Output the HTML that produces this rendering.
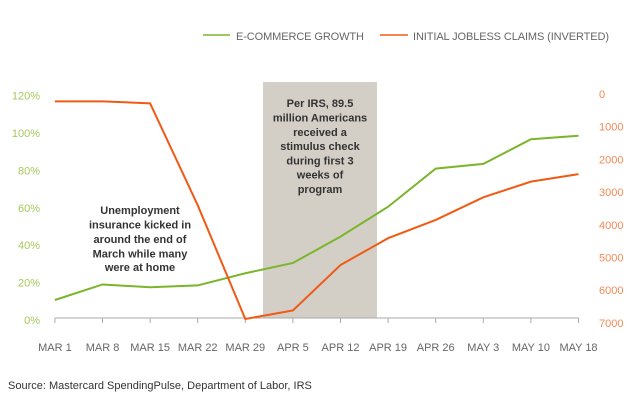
<!DOCTYPE html>
<html><head><meta charset="utf-8"><style>
body{margin:0;background:#fff;width:640px;height:401px;overflow:hidden;font-family:"Liberation Sans",sans-serif}
</style></head><body>
<svg id="chart" width="640" height="401" xmlns="http://www.w3.org/2000/svg" font-family="Liberation Sans, sans-serif">
<g>
<line x1="203" y1="35" x2="230" y2="35" stroke="#7ab52c" stroke-width="1.5"/>
<text x="236" y="40" font-size="11" fill="#666" textLength="128">E-COMMERCE GROWTH</text>
<line x1="380" y1="35" x2="408" y2="35" stroke="#f05a14" stroke-width="1.5"/>
<text x="413" y="40" font-size="11" fill="#666" textLength="196">INITIAL JOBLESS CLAIMS (INVERTED)</text>
</g>
<rect x="263" y="82" width="114" height="236" fill="#d3cfc7"/>
<g id="axes"></g>
<g id="marks"></g>
<text font-size="11" font-weight="bold" fill="#333" text-anchor="middle">
<tspan x="320" y="107">Per IRS, 89.5</tspan><tspan x="320" y="121.5">million Americans</tspan><tspan x="320" y="136">received a</tspan><tspan x="320" y="150">stimulus check</tspan><tspan x="320" y="164.5">during first 3</tspan><tspan x="320" y="178.5">weeks of</tspan><tspan x="320" y="193">program</tspan></text>
<text font-size="11" font-weight="bold" fill="#333" text-anchor="middle">
<tspan x="140" y="214">Unemployment</tspan><tspan x="140" y="228.5">insurance kicked in</tspan><tspan x="140" y="243">around the end of</tspan><tspan x="140" y="257.5">March while many</tspan><tspan x="140" y="271">were at home</tspan></text>
<text x="8" y="389" font-size="11" fill="#333">Source: Mastercard SpendingPulse, Department of Labor, IRS</text>
</svg>
<script>
const categories=["MAR 1","MAR 8","MAR 15","MAR 22","MAR 29","APR 5","APR 12","APR 19","APR 26","MAY 3","MAY 10","MAY 18"];
const ecommerce=[10.7,19,17.5,18.5,25,30.5,44.6,60.6,81,83.5,96.7,98.6];
const jobless=[225,225,285,3400,6880,6620,5230,4410,3850,3160,2680,2450];
const leftTicks=[0,20,40,60,80,100,120];
const rightTicks=[0,1000,2000,3000,4000,5000,6000,7000];
const NS="http://www.w3.org/2000/svg";
const x=i=>54.9+i*47.6;
const yL=v=>320-v*(224.3/120);
const yR=v=>94+v*0.0327;
const axes=document.getElementById('axes'),marks=document.getElementById('marks');
function mk(t,a,p){const e=document.createElementNS(NS,t);for(const k in a)e.setAttribute(k,a[k]);p.appendChild(e);return e;}
const base=mk('line',{x1:x(0),y1:318,x2:x(11),y2:318,stroke:'#aaa','stroke-width':1},axes);


categories.forEach((c,i)=>{
 const tk=mk('line',{x1:x(i),y1:318,x2:x(i),y2:323,stroke:'#aaa'},axes);
 
 
 const t=mk('text',{x:x(i),y:351,'font-size':11,fill:'#666','text-anchor':'middle'},axes);
 
 
 t.textContent=c;
});
leftTicks.forEach(v=>{
 const t=mk('text',{x:40,y:yL(v)+4,'font-size':11,fill:'#a5c85a','text-anchor':'end'},axes);
 
 
 t.textContent=v+'%';
});
rightTicks.forEach(v=>{
 const t=mk('text',{x:599,y:yR(v)+4,'font-size':11,fill:'#f28a55'},axes);
 
 
 t.textContent=v;
});
const g=mk('polyline',{points:ecommerce.map((v,i)=>x(i)+','+yL(v)).join(' '),fill:'none',stroke:'#7ab52c','stroke-width':2},marks);


const o=mk('polyline',{points:jobless.map((v,i)=>x(i)+','+yR(v)).join(' '),fill:'none',stroke:'#f05a14','stroke-width':2},marks);


</script>
</body></html>
